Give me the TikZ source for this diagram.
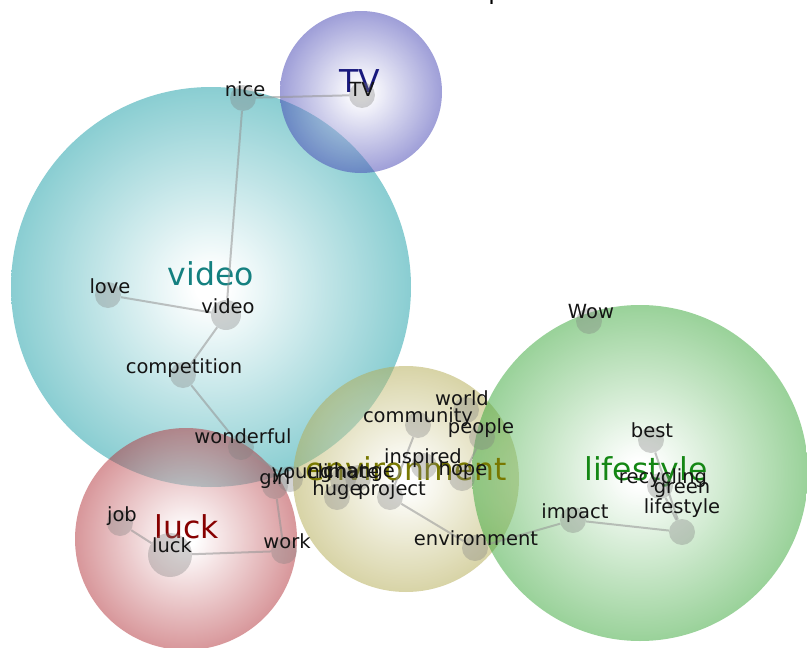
\documentclass[tikz,border=0pt]{standalone}
\usepackage{fontspec}
\setmainfont{DejaVu Sans}

% cluster fill colours (edge of each ball) and topic label colours
\definecolor{videoc}{RGB}{30,160,168}
\definecolor{tvc}{RGB}{70,70,180}
\definecolor{luckc}{RGB}{180,55,62}
\definecolor{envc}{RGB}{180,172,85}
\definecolor{lifec}{RGB}{60,168,60}
\definecolor{videot}{RGB}{20,128,128}
\definecolor{tvt}{RGB}{25,25,125}
\definecolor{luckt}{RGB}{135,0,0}
\definecolor{envt}{RGB}{120,120,0}
\definecolor{lifet}{RGB}{20,135,20}

% white centre fading to the cluster colour at the rim (25bp = rim)
\colorlet{ringc}{gray}
\pgfdeclareradialshading[ringc]{softball}{\pgfpoint{0bp}{0bp}}%
  {color(0bp)=(white); color(2bp)=(white); color(25bp)=(ringc); color(50bp)=(ringc)}

\tikzset{
  tint/.code={\colorlet{ringc}{#1}},
  cluster/.style={shading=softball, fill opacity=0.52},
  topic/.style={anchor=base, inner sep=0, font=\fontsize{31.5}{32}\selectfont},
  word/.style={anchor=base, inner sep=0, text=black!92, font=\fontsize{19.5}{20}\selectfont},
  dot/.style={circle, fill=gray, fill opacity=0.35, inner sep=0, minimum size=26},
  link/.style={draw=gray!85, line width=2pt, draw opacity=0.55},
}

\begin{document}
\begin{tikzpicture}[x=1pt,y=-1pt]
\useasboundingbox (0,0) rectangle (807,648);
\clip (0,0) rectangle (807,648);

% clusters
\shade[cluster, tint=videoc] (211,287) circle (200);
\shade[cluster, tint=tvc]    (361,92)  circle (81);
\shade[cluster, tint=luckc]  (186,539) circle (111);
\shade[cluster, tint=envc]   (406,479) circle (113);
\shade[cluster, tint=lifec]  (640,473) circle (168);

% title (only its lowest part falls inside the page)
\node[anchor=base, inner sep=0, font=\fontsize{24}{24}\selectfont] (title) at (496,-1) {p};

% topic labels
\node[topic, text=videot] (t-video) at (211,285) {video};
\node[topic, text=tvt]    (t-tv)    at (360,92)  {TV};
\node[topic, text=luckt]  (t-luck)  at (187,538) {luck};
\node[topic, text=envt]   (t-env)   at (406,480) {environment};
\node[topic, text=lifet]  (t-life)  at (646,480) {lifestyle};

% term nodes
\node[dot] (nice)        at (243,98)  {};
\node[dot] (tv)          at (362,95)  {};
\node[dot] (love)        at (108,295) {};
\node[dot, minimum size=30] (video) at (226,315) {};
\node[dot] (competition) at (183,375) {};
\node[dot] (wonderful)   at (241,447) {};
\node[dot] (young)       at (290,479) {};
\node[dot] (girl)        at (275,486) {};
\node[dot] (climate)     at (343,480) {};
\node[dot] (change)      at (358,478) {};
\node[dot] (huge)        at (337,497) {};
\node[dot] (project)     at (390,497) {};
\node[dot] (community)   at (418,425) {};
\node[dot] (world)       at (466,410) {};
\node[dot] (people)      at (482,437) {};
\node[dot] (inspired)    at (424,466) {};
\node[dot] (hope)        at (462,478) {};
\node[dot] (environment) at (475,548) {};
\node[dot] (impact)      at (573,520) {};
\node[dot] (wow)         at (589,321) {};
\node[dot] (best)        at (651,440) {};
\node[dot] (recycling)   at (660,486) {};
\node[dot] (greenlife)   at (682,532) {};
\node[dot] (job)         at (120,523) {};
\node[dot, minimum size=44] (luck) at (170,555) {};
\node[dot] (work)        at (284,551) {};

% links
\draw[link] (nice) -- (tv);
\draw[link] (nice) -- (video);
\draw[link] (love) -- (video);
\draw[link] (video) -- (competition);
\draw[link] (competition) -- (wonderful);
\draw[link] (wonderful) -- (young);
\draw[link] (girl) -- (work);
\draw[link] (job) -- (luck);
\draw[link] (luck) -- (work);
\draw[link] (community) -- (project);
\draw[link] (people) -- (hope);
\draw[link] (project) -- (environment);
\draw[link] (environment) -- (impact);
\draw[link] (impact) -- (greenlife);
\draw[link] (best) -- (greenlife);
\draw[link] (recycling) -- (greenlife);

% term labels
\node[word] (w-nice)        at (245,96)  {nice};
\node[word] (w-tv)          at (362,96)  {TV};
\node[word] (w-love)        at (110,293) {love};
\node[word] (w-video)       at (228,313) {video};
\node[word] (w-competition) at (184,373) {competition};
\node[word] (w-wonderful)   at (243,443) {wonderful};
\node[word] (w-young)       at (302,478) {young};
\node[word] (w-girl)        at (275,484) {girl};
\node[word] (w-climate)     at (343,478) {climate};
\node[word] (w-change)      at (359,477) {change};
\node[word] (w-huge)        at (337,495) {huge};
\node[word] (w-project)     at (392,495) {project};
\node[word] (w-community)   at (418,422) {community};
\node[word] (w-world)       at (462,405) {world};
\node[word] (w-people)      at (481,433) {people};
\node[word] (w-inspired)    at (423,463) {inspired};
\node[word] (w-hope)        at (463,475) {hope};
\node[word] (w-environment) at (476,545) {environment};
\node[word] (w-impact)      at (575,518) {impact};
\node[word] (w-wow)         at (591,318) {Wow};
\node[word] (w-best)        at (652,437) {best};
\node[word] (w-recycling)   at (663,483) {recycling};
\node[word, align=center, font=\fontsize{19.5}{15}\selectfont] (w-greenlife) at (682,513) {green\\lifestyle};
\node[word] (w-job)         at (122,521) {job};
\node[word] (w-luck)        at (172,552) {luck};
\node[word] (w-work)        at (287,548) {work};
\end{tikzpicture}
\end{document}
